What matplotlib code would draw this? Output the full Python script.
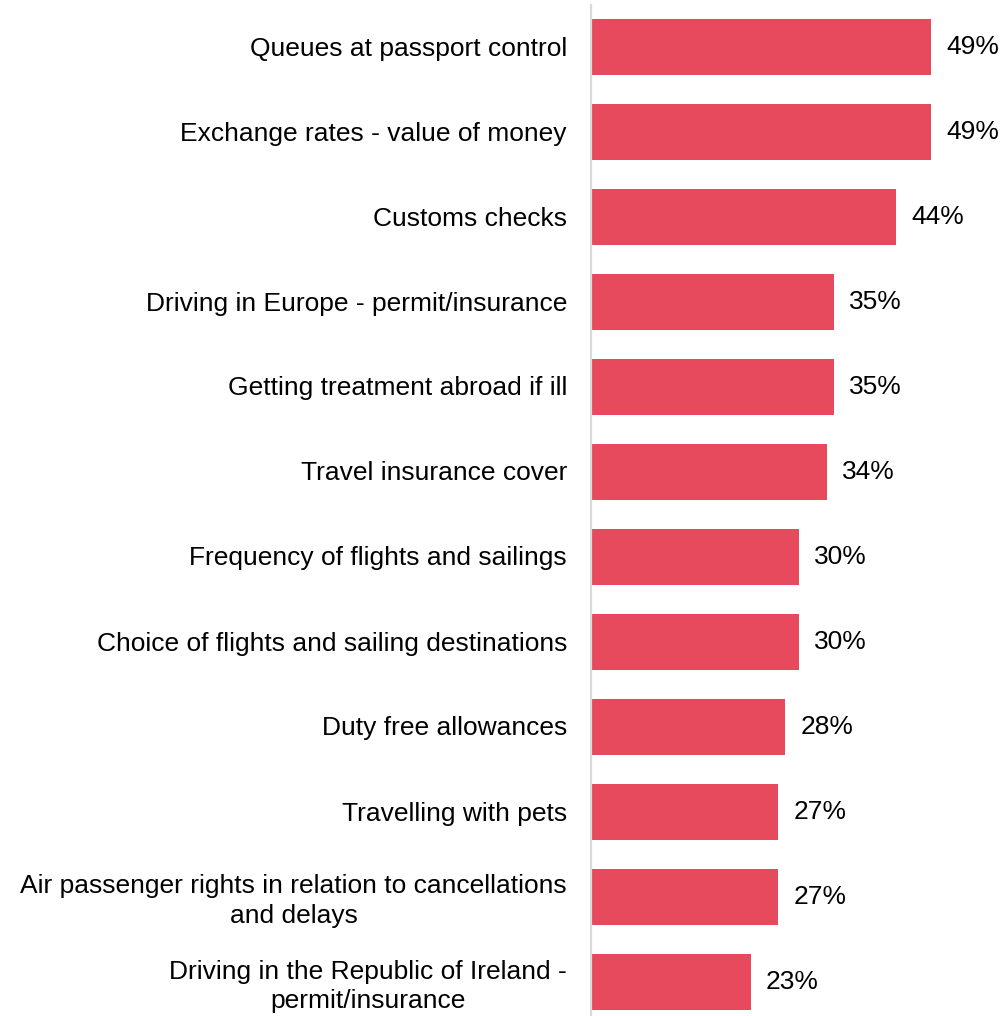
import matplotlib.pyplot as plt
from matplotlib.transforms import offset_copy

categories = [
    "Queues at passport control",
    "Exchange rates - value of money",
    "Customs checks",
    "Driving in Europe - permit/insurance",
    "Getting treatment abroad if ill",
    "Travel insurance cover",
    "Frequency of flights and sailings",
    "Choice of flights and sailing destinations",
    "Duty free allowances",
    "Travelling with pets",
    "Air passenger rights in relation to cancellations\nand delays",
    "Driving in the Republic of Ireland -\npermit/insurance",
]
values = [49, 49, 44, 35, 35, 34, 30, 30, 28, 27, 27, 23]

plt.rcParams['font.family'] = ['Liberation Sans', 'DejaVu Sans']

fig = plt.figure(figsize=(10.04, 10.16), dpi=100)
W, H = 1004, 1016
ax = fig.add_axes([591 / W, 0, (1000 - 591) / W, (1016 - 4.5) / H])

y = list(range(len(categories)))
bars = ax.barh(y, values, height=0.66, color='#E84A5D')
ax.set_xlim(0, 409 / 6.94)
ax.set_ylim(11.4, -0.5)

ax.set_yticks(y)
ax.set_yticklabels(categories, fontsize=19, linespacing=1.3)
ax.tick_params(axis='y', length=0, pad=0)
ax.set_xticks([])
fig.canvas.draw()
# centre each label block on its own width, keeping the right edges aligned
renderer = fig.canvas.get_renderer()
for lab in ax.get_yticklabels():
    w = lab.get_window_extent(renderer).width
    lab.set_x(0)
    lab.set_ha('center')
    lab.set_multialignment('center')
    lab.set_transform(offset_copy(ax.get_yaxis_transform(which='tick1'), fig=fig,
                                  x=-(24 + w / 2), y=1, units='dots'))

for s in ['top', 'right', 'bottom']:
    ax.spines[s].set_visible(False)
ax.spines['left'].set_color('#D9D9D9')
ax.spines['left'].set_linewidth(1.6)

for b, v in zip(bars, values):
    ax.annotate(f"{v}%", (v, b.get_y() + b.get_height() / 2),
                xytext=(11, 0), textcoords='offset points',
                va='center', ha='left', fontsize=19)

fig.savefig('out.png', dpi=100)
